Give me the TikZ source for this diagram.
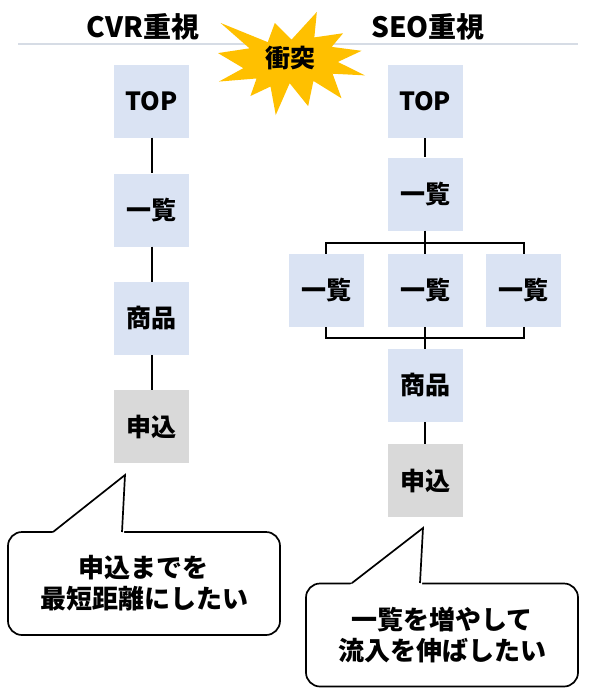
\documentclass[tikz,border=0pt]{standalone}
\usepackage{fontspec}
\setmainfont{Noto Sans CJK JP}
\usetikzlibrary{calc}
\definecolor{boxblue}{RGB}{218,227,243}
\definecolor{boxgray}{RGB}{217,217,217}
\definecolor{rulegray}{RGB}{214,220,229}
\definecolor{burstgold}{RGB}{255,192,0}

\begin{document}
\begin{tikzpicture}[x=1pt,y=-1pt,font=\bfseries,
  page/.style={fill=boxblue,minimum width=75pt,minimum height=73pt,inner sep=0pt,font=\fontsize{25}{28}\selectfont\bfseries},
  goal/.style={page,fill=boxgray},
  link/.style={line width=2pt},
  head/.style={font=\fontsize{28}{30}\selectfont\bfseries},
  bubble/.style={draw,line width=1.7pt,fill=white,rounded corners=14pt,minimum width=272pt,minimum height=103pt,align=center,font=\fontsize{26}{31}\selectfont\bfseries},
  tail/.style={line width=1.7pt,line join=miter}]
\useasboundingbox (0,0) rectangle (593,699);
% headings
\draw[rulegray,line width=2pt] (18,44) -- (578,44);
\node[head] (cvr) at (143,27) {CVR重視};
\node[head] (seo) at (428,27) {SEO重視};
% burst
\begin{scope}[shift={(218,12)},x=0.6806pt,y=-0.4769pt]
\fill[burstgold] (108,58) -- (145.22,0) -- (141.55,53.25) -- (183.8,44.57) -- (167.02,73.15)
  -- (210.97,81.37) -- (176.07,104.75) -- (216,132.9) -- (168.37,129.42) -- (181.45,180.95)
  -- (140.2,144.57) -- (132.47,197.37) -- (105.32,149.35) -- (84.85,216) -- (77.15,156.27)
  -- (47.62,176.17) -- (56.67,139.37) -- (1.35,145.87) -- (37.22,117.75) -- (0,86.15)
  -- (46.27,76.17) -- (3.7,22.95) -- (73.12,63.2) -- (83.52,22.95) -- cycle;
\end{scope}
\node[font=\fontsize{25}{28}\selectfont\bfseries] (clash) at (290,58) {衝突};
% CVR side
\node[page] (c1) at (151.5,101) {TOP};
\node[page] (c2) at (151.5,210) {一覧};
\node[page] (c3) at (151.5,318.5) {商品};
\node[goal] (c4) at (151.5,426.5) {申込};
\foreach \a/\b in {c1/c2,c2/c3,c3/c4} \draw[link] (\a) -- (\b);
% SEO side
\node[page] (s1) at (425,101.5) {TOP};
\node[page] (s2) at (425,194) {一覧};
\node[page] (l1) at (326,290.5) {一覧};
\node[page] (l2) at (425,290.5) {一覧};
\node[page] (l3) at (523.5,290.5) {一覧};
\node[page] (s3) at (425,385.5) {商品};
\node[goal] (s4) at (425,480.5) {申込};
\coordinate (fork) at (425,242.5);
\coordinate (join) at (425,338);
\draw[link] (s1) -- (s2);
\draw[link] (s2) -- (l2);
\draw[link] (l1.north) |- (fork) -| (l3.north);
\draw[link] (l1.south) |- (join) -| (l3.south);
\draw[link] (l2) -- (s3);
\draw[link] (s3) -- (s4);
% speech bubbles
\node[bubble] (b1) at (144,583.5) {申込までを\\最短距離にしたい};
\coordinate (t1) at (125,475);
\fill[white] (51,534) -- (t1) -- (124,534) -- cycle;
\draw[tail] (53,532) -- (t1) -- (122,532);
\node[bubble] (b2) at (442,635) {一覧を増やして\\流入を伸ばしたい};
\coordinate (t2) at (423,528);
\fill[white] (350,585) -- (t2) -- (422,585) -- cycle;
\draw[tail] (352,583) -- (t2) -- (420,583);
\end{tikzpicture}
\end{document}
